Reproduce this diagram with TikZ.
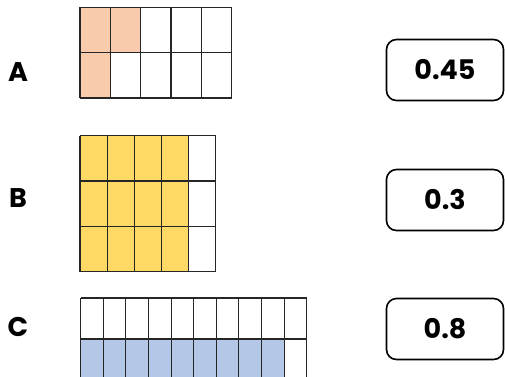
\documentclass[tikz,border=0pt]{standalone}
\usepackage{fontspec}
\setmainfont{Poppins}[BoldFont={* Bold}]
\definecolor{peach}{HTML}{F8CBAD}
\definecolor{gold}{HTML}{FFD966}
\definecolor{lblue}{HTML}{B4C7E7}
\begin{document}
\begin{tikzpicture}[x=1pt,y=-1pt,
  gridline/.style={draw=black!85,line width=1.1pt},
  letter/.style={font=\fontsize{27}{27}\selectfont\bfseries,anchor=center},
  answer/.style={draw=black,line width=1.6pt,rounded corners=10pt,minimum width=117pt,minimum height=61pt,font=\fontsize{27}{27}\selectfont\bfseries,inner sep=0pt}]
\useasboundingbox (0,0) rectangle (505,376);
\clip (0,0) rectangle (505,376);
% Grid A: 5x2
\fill[peach] (80,7.3) rectangle (140.7,52.7);
\fill[peach] (80,52.7) rectangle (110.3,98);
\foreach \i in {0,...,5} \draw[gridline] (80+30.34*\i,7.3) -- (80+30.34*\i,98);
\foreach \y in {7.3,52.7,98} \draw[gridline] (80,\y) -- (231.7,\y);
% Grid B: 5x3
\fill[gold] (80,135.7) rectangle (188.7,271.6);
\foreach \x in {80,107.1,134.3,161.5,188.7,215.8} \draw[gridline] (\x,135.7) -- (\x,271.6);
\foreach \y in {135.7,181,226.3,271.6} \draw[gridline] (80,\y) -- (215.8,\y);
% Grid C: 10x2 (cut off by picture edge)
\fill[lblue] (80.7,339) rectangle (284.1,380);
\foreach \i in {0,...,10} \draw[gridline] (80.7+22.6*\i,298) -- (80.7+22.6*\i,380);
\foreach \y in {298,339,380} \draw[gridline] (80.7,\y) -- (306.7,\y);
% Letters
\node[letter] (la) at (18,72) {A};
\node[letter] (lb) at (18,198) {B};
\node[letter] (lc) at (18,327) {C};
% Answer boxes
\node[answer] (ba) at (445,70) {0.45};
\node[answer] (bb) at (445,200) {0.3};
\node[answer] (bc) at (445,329) {0.8};
\end{tikzpicture}
\end{document}
